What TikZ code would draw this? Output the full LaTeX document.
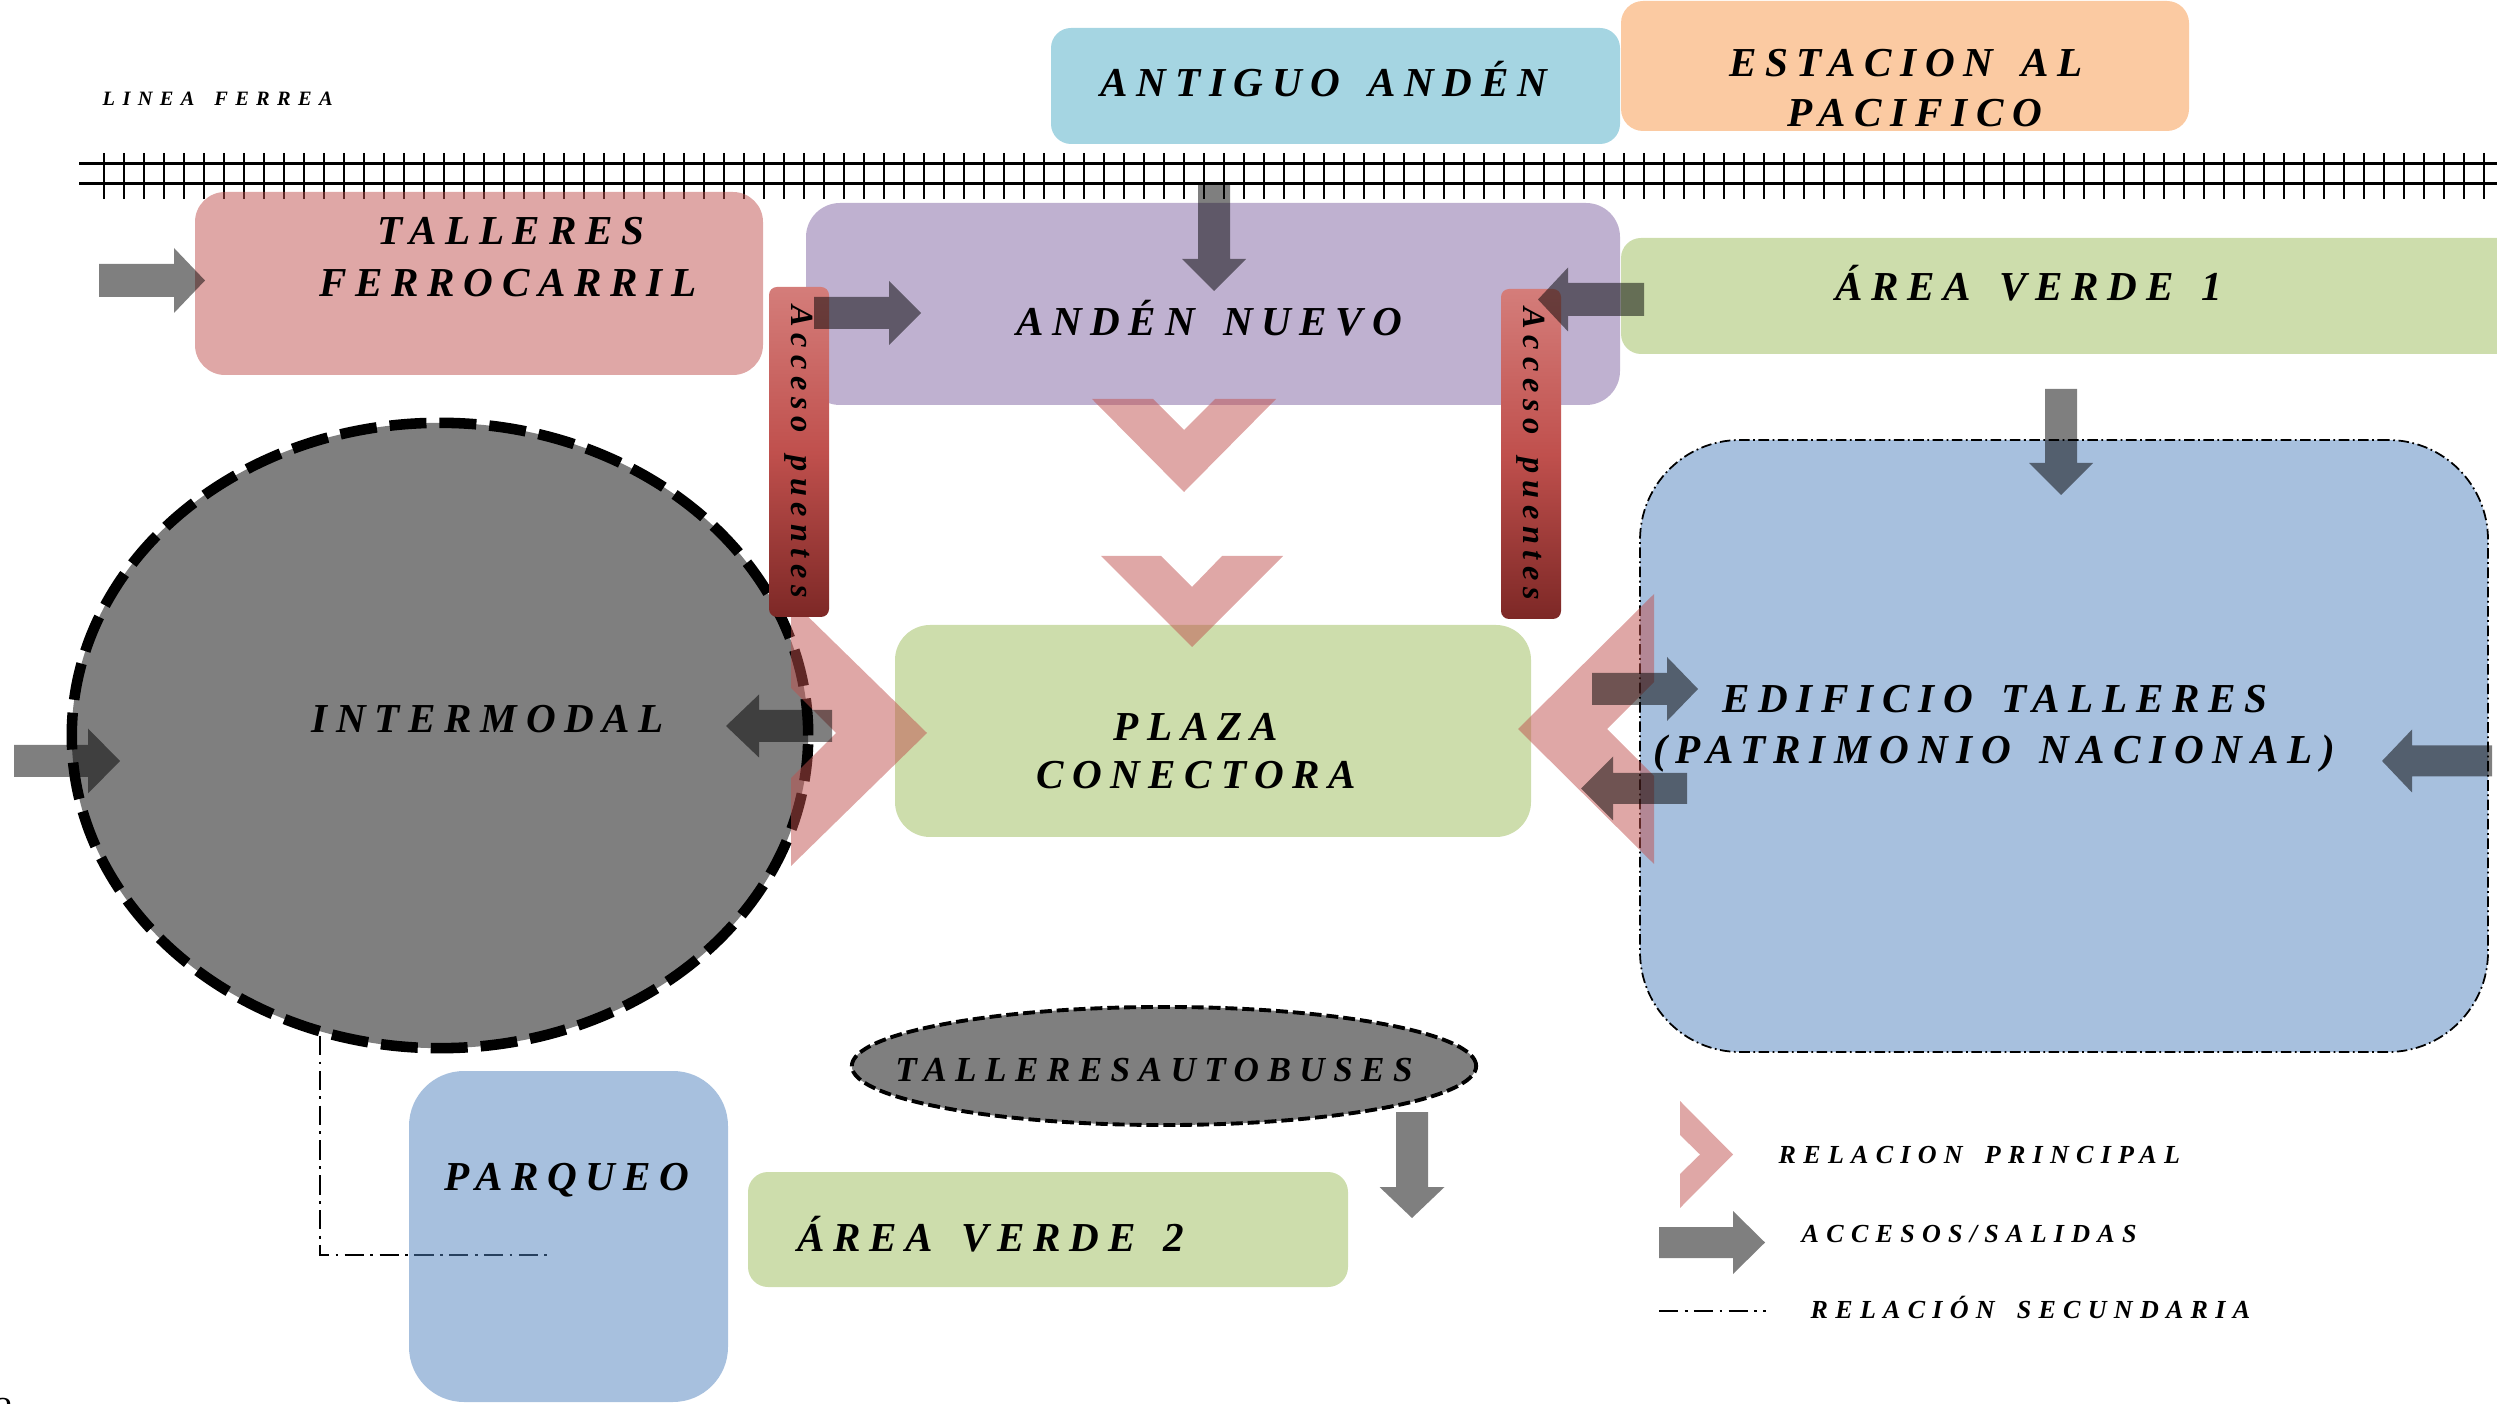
\documentclass[tikz,border=0pt]{standalone}
\usepackage{fontspec}
\setmainfont{Liberation Serif}
\newfontfamily\fntA[LetterSpace=21,WordSpace=2]{Liberation Serif}
\newfontfamily\fntB[LetterSpace=24,WordSpace=2]{Liberation Serif}
\newfontfamily\fntC[LetterSpace=21,WordSpace=1.5]{Liberation Serif}
\newfontfamily\fntD[LetterSpace=28,WordSpace=1.6]{Liberation Serif}
\newfontfamily\fntE[LetterSpace=36,WordSpace=1.6]{Liberation Serif}
\usetikzlibrary{shapes.geometric,fit}
\definecolor{cRed}{HTML}{C0504D}
\definecolor{cPur}{HTML}{8064A2}
\definecolor{cCya}{HTML}{4BACC6}
\definecolor{cOra}{HTML}{F79646}
\definecolor{cGre}{HTML}{9BBB59}
\definecolor{cBlu}{HTML}{4F81BD}
\definecolor{barTop}{RGB}{212,125,122}
\definecolor{barBot}{RGB}{125,40,38}
\tikzset{
  box/.style={rectangle, inner sep=0pt, draw=none, fill opacity=0.5, text opacity=1},
  bar/.style={rectangle, inner sep=0pt, rounded corners=0.08cm, top color=barTop, bottom color=barBot, middle color=cRed},
  rail/.style={line width=0.85pt, black},
  tie/.style={line width=0.55pt, black},
  acc/.style={fill=black, fill opacity=0.5},
  relchev/.style={fill=cRed, fill opacity=0.5},
  secline/.style={line width=0.55pt, black, dash pattern=on 5.5pt off 1.8pt on 0.8pt off 1.8pt},
  lblA/.style={font=\fntA\bfseries\itshape\fontsize{11.7}{14}\selectfont, inner sep=0pt, anchor=base},
  lblB/.style={font=\fntB\bfseries\itshape\fontsize{10}{12}\selectfont, inner sep=0pt, anchor=base},
  lblC/.style={font=\fntC\bfseries\itshape\fontsize{9.2}{11}\selectfont, inner sep=0pt},
  lblD/.style={font=\fntD\bfseries\itshape\fontsize{7.4}{9}\selectfont, inner sep=0pt, anchor=base west},
  lblE/.style={font=\fntE\bfseries\itshape\fontsize{5.8}{7}\selectfont, inner sep=0pt, anchor=base west},
}
% horizontal block arrow: tail x, tip x, centre y, shaft half, head length (signed), head half
\newcommand\blkH[6]{%
  \fill[acc] (#1,{#3-(#4)}) -- ({#2-(#5)},{#3-(#4)}) -- ({#2-(#5)},{#3-(#6)}) -- (#2,#3)
    -- ({#2-(#5)},{#3+(#6)}) -- ({#2-(#5)},{#3+(#4)}) -- (#1,{#3+(#4)}) -- cycle;}
% vertical block arrow: centre x, tail y, tip y, shaft half, head length (signed), head half
\newcommand\blkV[6]{%
  \fill[acc] ({#1-(#4)},#2) -- ({#1-(#4)},{#3-(#5)}) -- ({#1-(#6)},{#3-(#5)}) -- (#1,#3)
    -- ({#1+(#6)},{#3-(#5)}) -- ({#1+(#4)},{#3-(#5)}) -- ({#1+(#4)},#2) -- cycle;}
\begin{document}
\begin{tikzpicture}[x=0.01cm,y=-0.01cm]
\useasboundingbox (0,0) rectangle (2497,1404);

% railway
\foreach \t in {104,124,...,2496} \draw[tie] (\t,153) -- (\t,199);
\draw[rail] (79,164) -- (2497,164);
\draw[rail] (79,184) -- (2497,184);

% secondary relation (drawn under the boxes)
\coordinate (secA) at (320,1036);
\coordinate (secB) at (549,1255);
\draw[secline] (secA) |- (secB);

% boxes
\node[box, fill=cRed, rounded corners=0.3cm, fit={(195,192) (763,375)}] (talleres) {};
\node[box, fill=cCya, rounded corners=0.2cm, fit={(1051,28) (1620,144)}] (antiguo) {};
\node[box, fill=cOra, rounded corners=0.22cm, fit={(1621,1) (2189,131)}] (estacion) {};
\node[box, fill=cGre, rounded corners=0.2cm, fit={(1621,238) (2560,354)}] (verde1) {};
\node[box, fill=cPur, rounded corners=0.34cm, fit={(806,203) (1620,405)}] (nuevo) {};
\node[box, fill=cGre, rounded corners=0.35cm, fit={(895,625) (1531,837)}] (plaza) {};
\node[box, fill=cBlu, draw=black, line width=0.5pt, dash pattern=on 3pt off 1pt on 0.5pt off 1pt,
      rounded corners=1cm, fit={(1640,440) (2488,1052)}] (edificio) {};
\node[box, fill=cBlu, rounded corners=0.55cm, fit={(409,1071) (728,1402)}] (parqueo) {};
\node[box, fill=cGre, rounded corners=0.2cm, fit={(748,1172) (1348,1287)}] (verde2) {};

\node[ellipse, fill=black, fill opacity=0.5, draw=black, line width=3pt,
      dash pattern=on 10.5pt off 3.7pt, minimum width=7.36cm, minimum height=6.25cm, inner sep=0pt]
      (intermodal) at (440,735.5) {};
\node[ellipse, fill=black, fill opacity=0.5, draw=black, line width=1.1pt,
      dash pattern=on 3.4pt off 1.4pt, minimum width=6.24cm, minimum height=1.18cm, inner sep=0pt]
      (autobuses) at (1164,1066) {};

% principal relations (chevrons)
\fill[relchev] (1092,399) -- (1153,399) -- (1184,430) -- (1215,399) -- (1276,399) -- (1184,492) -- cycle;
\fill[relchev] (1101,556) -- (1161,556) -- (1192,587) -- (1222,556) -- (1283,556) -- (1192,647) -- cycle;
\fill[relchev] (791,600) -- (927,733) -- (791,866) -- (791,778) -- (836,733) -- (791,688) -- cycle;
\fill[relchev] (1654,594) -- (1518,729) -- (1654,864) -- (1654,776) -- (1607,729) -- (1654,682) -- cycle;
\fill[relchev] (1680,1101) -- (1733,1154.5) -- (1680,1208) -- (1680,1174) -- (1700,1154.5) -- (1680,1135) -- cycle;

% bridge access bars
\node[bar, fit={(769,287) (829,617)}] (accL) {};
\node[bar, fit={(1501,289) (1561,619)}] (accR) {};

% accesses / exits
\blkH{99}{205}{280.5}{16.5}{31}{32.5}
\blkH{814}{921}{313}{16}{32}{32}
\blkV{1214}{185}{291}{16}{32}{32}
\blkH{1644}{1538}{299.5}{16.5}{-30}{32}
\blkV{2061}{389}{495}{16}{32}{32}
\blkH{2492}{2382}{761}{15.5}{-30}{31.5}
\blkH{1592}{1698}{689}{16}{31}{32}
\blkH{1687}{1581}{788.5}{15.5}{-32}{32}
\blkH{14}{120}{761}{16}{32}{32.5}
\blkH{832}{726}{726}{16}{-33}{31.5}
\blkV{1412}{1112}{1218}{16}{31}{32.5}
\blkH{1659}{1765}{1242.5}{15.5}{32}{31.5}

% legend dash-dot
\coordinate (legA) at (1659,1311);
\coordinate (legB) at (1766,1311);
\draw[secline] (legA) -- (legB);

% texts
\node[lblE] (tLinea) at (102,105.5) {LINEA FERREA};
\node[lblA] (tTal1) at (511,244.5) {TALLERES};
\node[lblA] (tTal2) at (508,296.5) {FERROCARRIL};
\node[lblA] (tAnt) at (1324,96.5) {ANTIGUO ANDÉN};
\node[lblA] (tEst1) at (1906,76.5) {ESTACION AL};
\node[lblA] (tEst2) at (1915,126.5) {PACIFICO};
\node[lblA] (tVer1) at (2029,300.5) {ÁREA VERDE 1};
\node[lblA] (tNue) at (1209,335.5) {ANDÉN NUEVO};
\node[lblA] (tPla1) at (1196,740.5) {PLAZA};
\node[lblA] (tPla2) at (1196,788.5) {CONECTORA};
\node[lblA] (tEdi1) at (1995,712.5) {EDIFICIO TALLERES};
\node[lblA] (tEdi2) at (1994,764) {(PATRIMONIO NACIONAL)};
\node[lblA] (tInt) at (488,732.5) {INTERMODAL};
\node[lblA] (tPar) at (567,1190.5) {PARQUEO};
\node[lblA] (tVer2) at (991,1251.5) {ÁREA VERDE 2};
\node[lblB] (tAut) at (1154,1081.5) {TALLERESAUTOBUSES};
\node[lblC, rotate=-90] (tAccL) at (accL.center) {Acceso puentes};
\node[lblC, rotate=-90] (tAccR) at (accR.center) {Acceso puentes};
\node[lblD] (tLeg1) at (1778,1163.5) {RELACION PRINCIPAL};
\node[lblD] (tLeg2) at (1801,1242.5) {ACCESOS/SALIDAS};
\node[lblD] (tLeg3) at (1810,1318.5) {RELACIÓN SECUNDARIA};
\node[font=\fontsize{10}{12}\selectfont, inner sep=0pt, anchor=base] (pgnum) at (4,1421) {2};
\end{tikzpicture}
\end{document}
